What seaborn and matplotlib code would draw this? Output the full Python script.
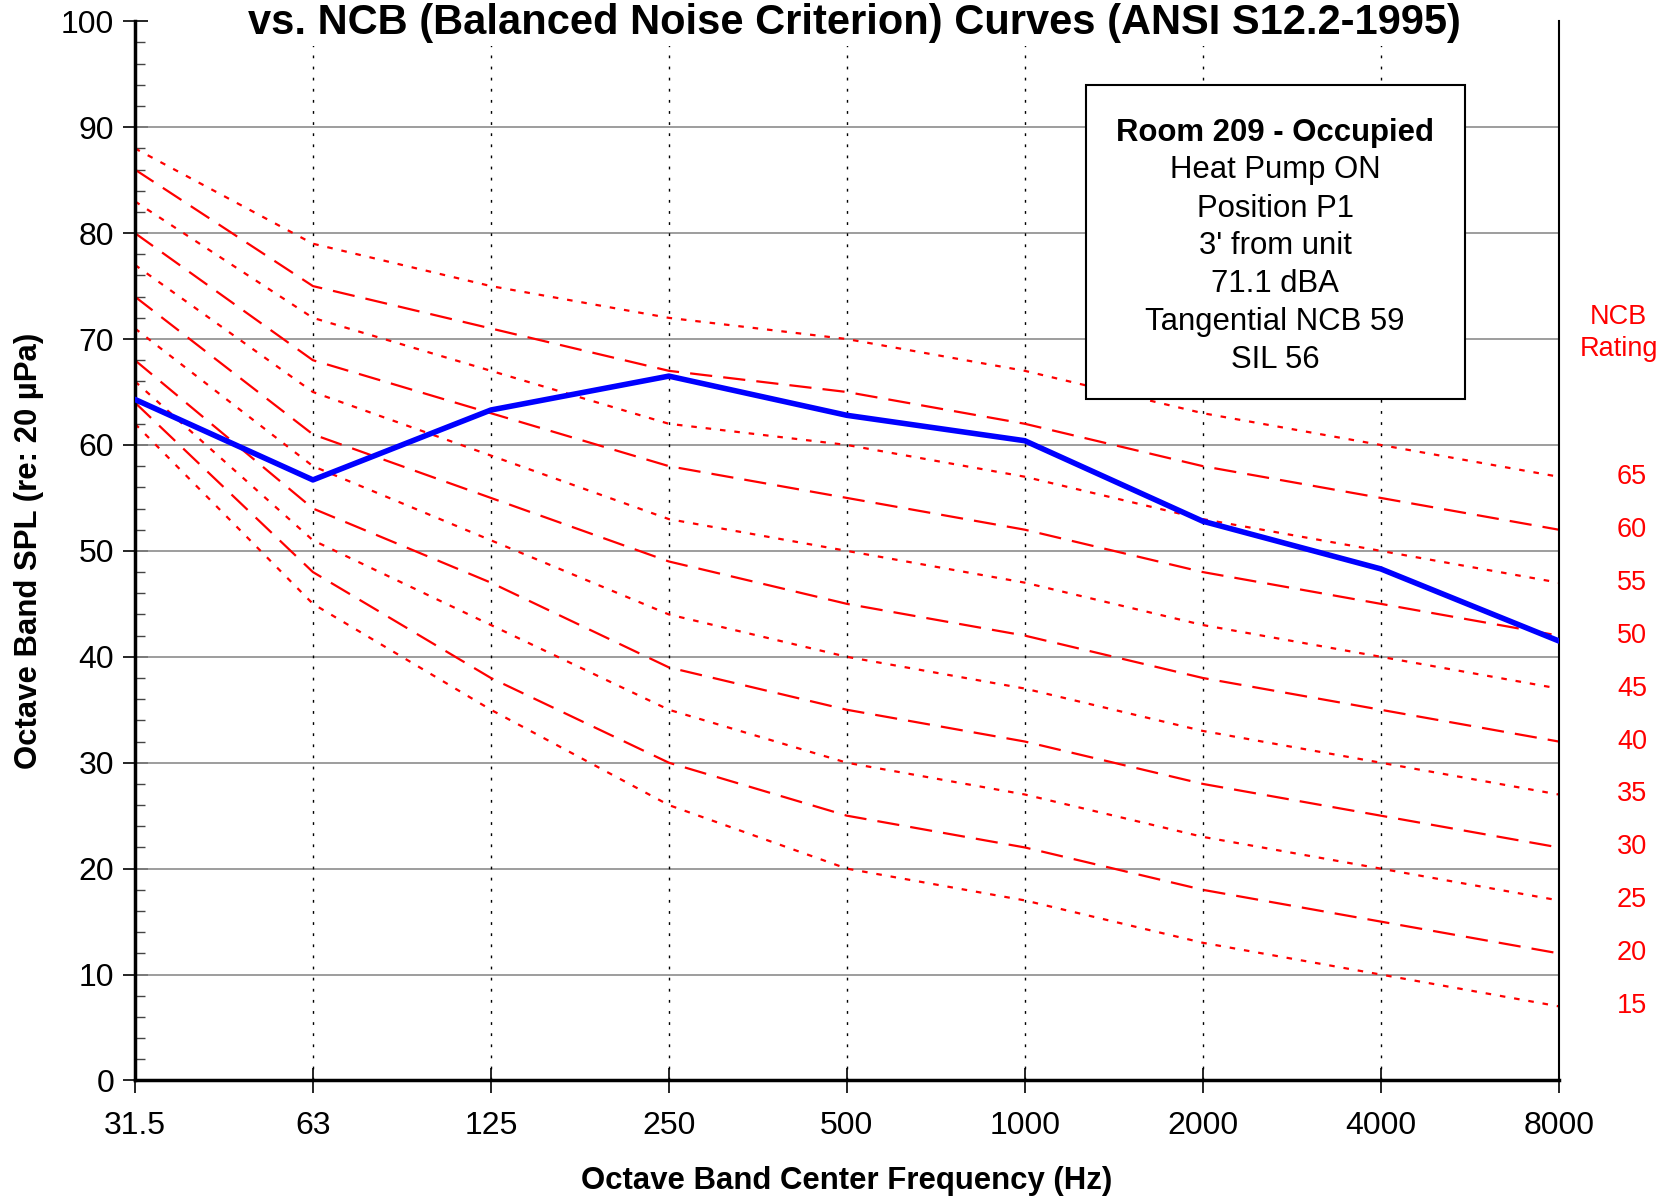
import numpy as np
import pandas as pd
import seaborn as sns
import matplotlib
matplotlib.use("Agg")
import matplotlib.pyplot as plt
from matplotlib.ticker import MultipleLocator

# octave bands
freqs = ["31.5", "63", "125", "250", "500", "1000", "2000", "4000", "8000"]

# NCB reference curves
ncb_ratings = [65, 60, 55, 50, 45, 40, 35, 30, 25, 20, 15]
ncb_curves = {
    65: [88, 79, 75, 72, 70, 67, 63, 60, 57],
    60: [86, 75, 71, 67, 65, 62, 58, 55, 52],
    55: [83, 72, 67, 62, 60, 57, 53, 50, 47],
    50: [80, 68, 63, 58, 55, 52, 48, 45, 42],
    45: [77, 65, 59, 53, 50, 47, 43, 40, 37],
    40: [74, 61, 55, 49, 45, 42, 38, 35, 32],
    35: [71, 58, 51, 44, 40, 37, 33, 30, 27],
    30: [68, 54, 47, 39, 35, 32, 28, 25, 22],
    25: [66, 51, 43, 35, 30, 27, 23, 20, 17],
    20: [64, 48, 38, 30, 25, 22, 18, 15, 12],
    15: [62, 45, 35, 26, 20, 17, 13, 10, 7],
}

# measured spectrum
measured = [64.3, 56.7, 63.3, 66.5, 62.8, 60.4, 52.8, 48.3, 41.5]

info_lines = ["Room 209 - Occupied", "Heat Pump ON", "Position P1", "3' from unit",
              "71.1 dBA", "Tangential NCB 59", "SIL 56"]

sns.set_theme(style="white")
plt.rcParams["font.family"] = ["Liberation Sans", "DejaVu Sans"]
plt.rcParams["text.color"] = "black"
plt.rcParams["axes.labelcolor"] = "black"
plt.rcParams["xtick.color"] = "black"
plt.rcParams["ytick.color"] = "black"

fig = plt.figure(figsize=(16.66, 11.96), dpi=100)
ax = fig.add_axes([0.081, 0.0966, 0.8546, 0.8856])

xpos = np.arange(len(freqs))

# gridlines
for v in range(10, 100, 10):
    ax.axhline(v, color="#8c8c8c", lw=1.2, zorder=1)
for x in xpos[1:-1]:
    ax.axvline(x, color="black", lw=1.0, ls=(0, (2, 6)), zorder=1)

dash_long = (0, (10, 5))
dash_dot = (0, (2.5, 4))
for i, r in enumerate(ncb_ratings):
    ls = dash_dot if i % 2 == 0 else dash_long
    sns.lineplot(x=xpos, y=ncb_curves[r], ax=ax, color="#ff0000", lw=1.6,
                 linestyle=ls, zorder=2)
    ax.text(1.0515, ncb_curves[r][-1], str(r), transform=ax.get_yaxis_transform(),
            color="#ff0000", fontsize=19.5, ha="center", va="center")

ax.text(1.042, 70.6, "NCB\nRating", transform=ax.get_yaxis_transform(),
        color="#ff0000", fontsize=19.5, ha="center", va="center", linespacing=1.3)

sns.lineplot(x=xpos, y=measured, ax=ax, color="#0000ff", lw=4, zorder=4)

ax.set_xlim(0, len(freqs) - 1)
ax.set_ylim(0, 100)
ax.set_xticks(xpos)
ax.set_xticklabels(freqs)
ax.yaxis.set_major_locator(MultipleLocator(10))
ax.yaxis.set_minor_locator(MultipleLocator(2))
ax.tick_params(axis="both", which="major", direction="inout", length=18,
               width=1.2, color="black", labelsize=23, left=True, bottom=True)
ax.tick_params(axis="y", which="minor", direction="in", length=7, width=1,
               color="#444444", left=True)
ax.tick_params(axis="x", pad=13)
ax.tick_params(axis="y", pad=6)

for side in ["left", "bottom"]:
    ax.spines[side].set_linewidth(2.5)
    ax.spines[side].set_color("black")
ax.spines["right"].set_linewidth(1.5)
ax.spines["right"].set_color("black")
ax.spines["top"].set_visible(False)

ax.set_xlabel("Octave Band Center Frequency (Hz)", fontsize=22.4,
              fontweight="bold", labelpad=18)
ax.set_ylabel("Octave Band SPL (re: 20 \u00b5Pa)", fontsize=22.4,
              fontweight="bold", labelpad=12)

ax.text(0.5055, 0.998, "vs. NCB (Balanced Noise Criterion) Curves (ANSI S12.2-1995)",
        transform=ax.transAxes, fontsize=30, fontweight="bold", ha="center",
        va="center", zorder=7,
        bbox=dict(facecolor="white", edgecolor="none", pad=2))

# info box
line_y = [89.5, 86.0, 82.3, 78.8, 75.2, 71.6, 68.0]
for k, (txt, yy) in enumerate(zip(info_lines, line_y)):
    ax.text(6.406, yy, txt, fontsize=22.4, fontweight="bold" if k == 0 else "normal",
            ha="center", va="center", zorder=6)
ax.add_patch(plt.Rectangle((5.343, 64.3), 2.129, 29.7, facecolor="white",
                           edgecolor="black", lw=1.5, zorder=5))

fig.savefig("out.png", dpi=100)
